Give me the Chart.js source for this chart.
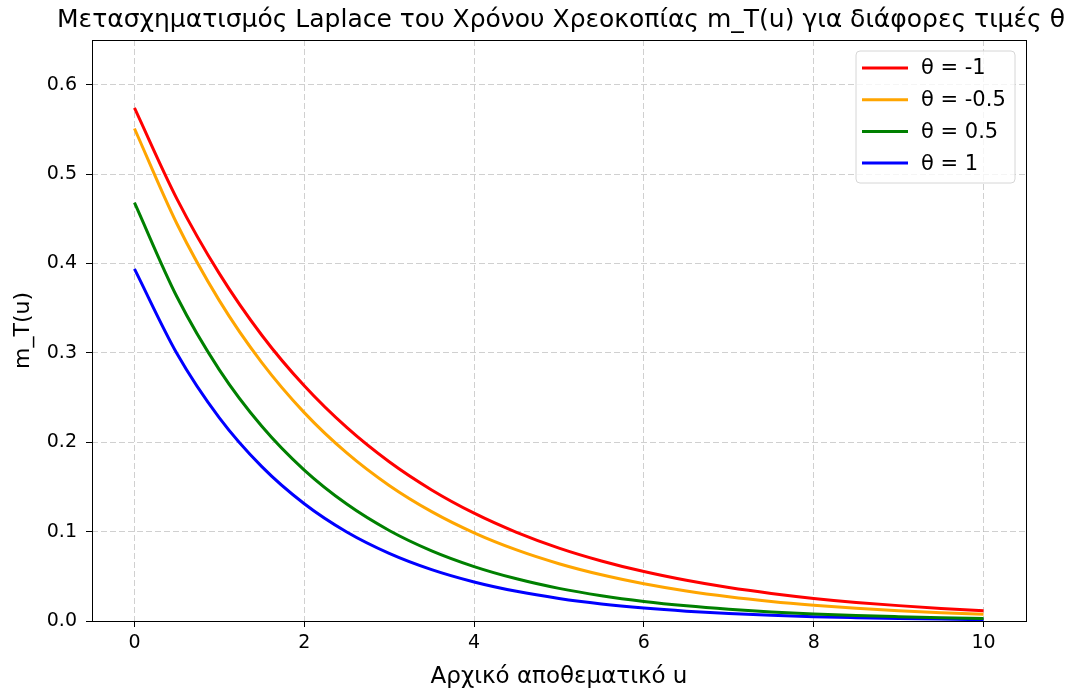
<!DOCTYPE html>
<html>
<head>
<meta charset="utf-8">
<script src="https://cdn.jsdelivr.net/npm/chart.js@4.4.1/dist/chart.umd.min.js"></script>
<style>
    html, body { margin: 0; padding: 0; background: #fff; }
    #wrap { width: 1072px; height: 693px; }
</style>
</head>
<body>
<div id="wrap"><canvas id="laplaceChart" width="1072" height="693"></canvas></div>
<script>
// Initial reserve u (x values)
const uValues = [0, 0.5, 1, 1.5, 2, 2.5, 3, 3.5, 4, 4.5, 5, 5.5, 6, 6.5, 7, 7.5, 8, 8.5, 9, 9.5, 10];

// m_T(u) for each theta
const thetaMinus1 = [0.574, 0.4723, 0.3886, 0.3197, 0.2631, 0.2165, 0.1781, 0.1466, 0.1206, 0.0992, 0.0816,
    0.0672, 0.0553, 0.0455, 0.0374, 0.0308, 0.0253, 0.0208, 0.0172, 0.0141, 0.0116];
const thetaMinus05 = [0.551, 0.4444, 0.3584, 0.2890, 0.2331, 0.1880, 0.1516, 0.1223, 0.0986, 0.0795, 0.0641,
    0.0517, 0.0417, 0.0336, 0.0271, 0.0219, 0.0177, 0.0142, 0.0115, 0.0093, 0.0075];
const thetaPlus05 = [0.468, 0.3627, 0.2810, 0.2178, 0.1688, 0.1308, 0.1013, 0.0785, 0.0609, 0.0472, 0.0365,
    0.0283, 0.0219, 0.0170, 0.0132, 0.0102, 0.0079, 0.0061, 0.0048, 0.0037, 0.0029];
const thetaPlus1 = [0.394, 0.2993, 0.2273, 0.1727, 0.1312, 0.0996, 0.0757, 0.0575, 0.0437, 0.0332, 0.0252,
    0.0191, 0.0145, 0.0110, 0.0084, 0.0064, 0.0048, 0.0037, 0.0028, 0.0021, 0.0016];

const seriesLabels = ['θ = -1', 'θ = -0.5', 'θ = 0.5', 'θ = 1'];
const seriesColors = ['#ff0000', '#ffa500', '#008000', '#0000ff'];
const seriesValues = [thetaMinus1, thetaMinus05, thetaPlus05, thetaPlus1];

const xTicks = [0, 2, 4, 6, 8, 10];
const yTicks = [0, 0.1, 0.2, 0.3, 0.4, 0.5, 0.6];

const chartTitle = 'Μετασχηματισμός Laplace του Χρόνου Χρεοκοπίας m_T(u) για διάφορες τιμές θ';
const xTitle = 'Αρχικό αποθεματικό u';
const yTitle = 'm_T(u)';

const FONT = "'DejaVu Sans', sans-serif";
const GRID_COLOR = 'rgba(176,176,176,0.6)';

// Title, frame and legend drawn like matplotlib does
const decorPlugin = {
    id: 'decor',
    afterDraw(chart) {
        const ctx = chart.ctx;
        const area = chart.chartArea;
        ctx.save();

        // full frame round the plot
        ctx.strokeStyle = '#000';
        ctx.lineWidth = 1;
        ctx.strokeRect(Math.round(area.left) + 0.5, Math.round(area.top) + 0.5,
            Math.round(area.right - area.left), Math.round(area.bottom - area.top));

        // title
        ctx.fillStyle = '#000';
        ctx.font = '25px ' + FONT;
        ctx.textAlign = 'center';
        ctx.textBaseline = 'middle';
        ctx.fillText(chartTitle, 561, 20);

        // legend box
        const bx = 856, by = 51, bw = 159, bh = 132, r = 4;
        ctx.beginPath();
        ctx.moveTo(bx + r, by);
        ctx.arcTo(bx + bw, by, bx + bw, by + bh, r);
        ctx.arcTo(bx + bw, by + bh, bx, by + bh, r);
        ctx.arcTo(bx, by + bh, bx, by, r);
        ctx.arcTo(bx, by, bx + bw, by, r);
        ctx.closePath();
        ctx.fillStyle = 'rgba(255,255,255,0.8)';
        ctx.fill();
        ctx.strokeStyle = '#d6d6d6';
        ctx.stroke();

        ctx.font = '21px ' + FONT;
        ctx.textAlign = 'left';
        chart.data.datasets.forEach((ds, i) => {
            const y = 68 + i * 31.7;
            ctx.strokeStyle = ds.borderColor;
            ctx.lineWidth = 3;
            ctx.beginPath();
            ctx.moveTo(862, y);
            ctx.lineTo(908, y);
            ctx.stroke();
            ctx.fillStyle = '#000';
            ctx.fillText(ds.label, 921, y + 1);
        });
        ctx.restore();
    }
};

const ctx = document.getElementById('laplaceChart').getContext('2d');

new Chart(ctx, {
    type: 'line',
    data: {
        datasets: seriesValues.map((vals, i) => ({
            label: seriesLabels[i],
            data: uValues.map((u, j) => ({ x: u, y: vals[j] })),
            borderColor: seriesColors[i],
            backgroundColor: seriesColors[i],
            borderWidth: 3,
            pointRadius: 0,
            cubicInterpolationMode: 'monotone',
            fill: false
        }))
    },
    options: {
        responsive: false,
        animation: false,
        devicePixelRatio: 1,
        layout: {
            padding: { left: 0, right: 46, top: 40, bottom: 0 }
        },
        scales: {
            x: {
                type: 'linear',
                min: -0.5,
                max: 10.5,
                afterFit: scale => { scale.height = 72; },
                afterBuildTicks: scale => { scale.ticks = xTicks.map(v => ({ value: v })); },
                ticks: {
                    color: '#000',
                    font: { family: FONT, size: 19 },
                    padding: 5,
                    maxRotation: 0,
                    callback: v => String(v)
                },
                grid: {
                    color: GRID_COLOR,
                    tickColor: '#000',
                    tickBorderDash: [],
                    tickLength: 6,
                    lineWidth: 1
                },
                border: { display: false, dash: [6, 3] },
                title: {
                    display: true,
                    text: xTitle,
                    color: '#000',
                    font: { family: FONT, size: 23 },
                    padding: { top: 0, bottom: 2 }
                }
            },
            y: {
                type: 'linear',
                min: 0,
                max: 0.65,
                afterFit: scale => { scale.width = 92; },
                afterBuildTicks: scale => { scale.ticks = yTicks.map(v => ({ value: v })); },
                ticks: {
                    color: '#000',
                    font: { family: FONT, size: 19 },
                    padding: 9,
                    callback: v => v.toFixed(1)
                },
                grid: {
                    color: GRID_COLOR,
                    tickColor: '#000',
                    tickBorderDash: [],
                    tickLength: 6,
                    lineWidth: 1
                },
                border: { display: false, dash: [6, 3] },
                title: {
                    display: true,
                    text: yTitle,
                    color: '#000',
                    font: { family: FONT, size: 22 },
                    padding: { top: 10.5, bottom: 0 }
                }
            }
        },
        plugins: {
            legend: { display: false },
            title: { display: false },
            tooltip: { enabled: false }
        }
    },
    plugins: [decorPlugin]
});
</script>
</body>
</html>
